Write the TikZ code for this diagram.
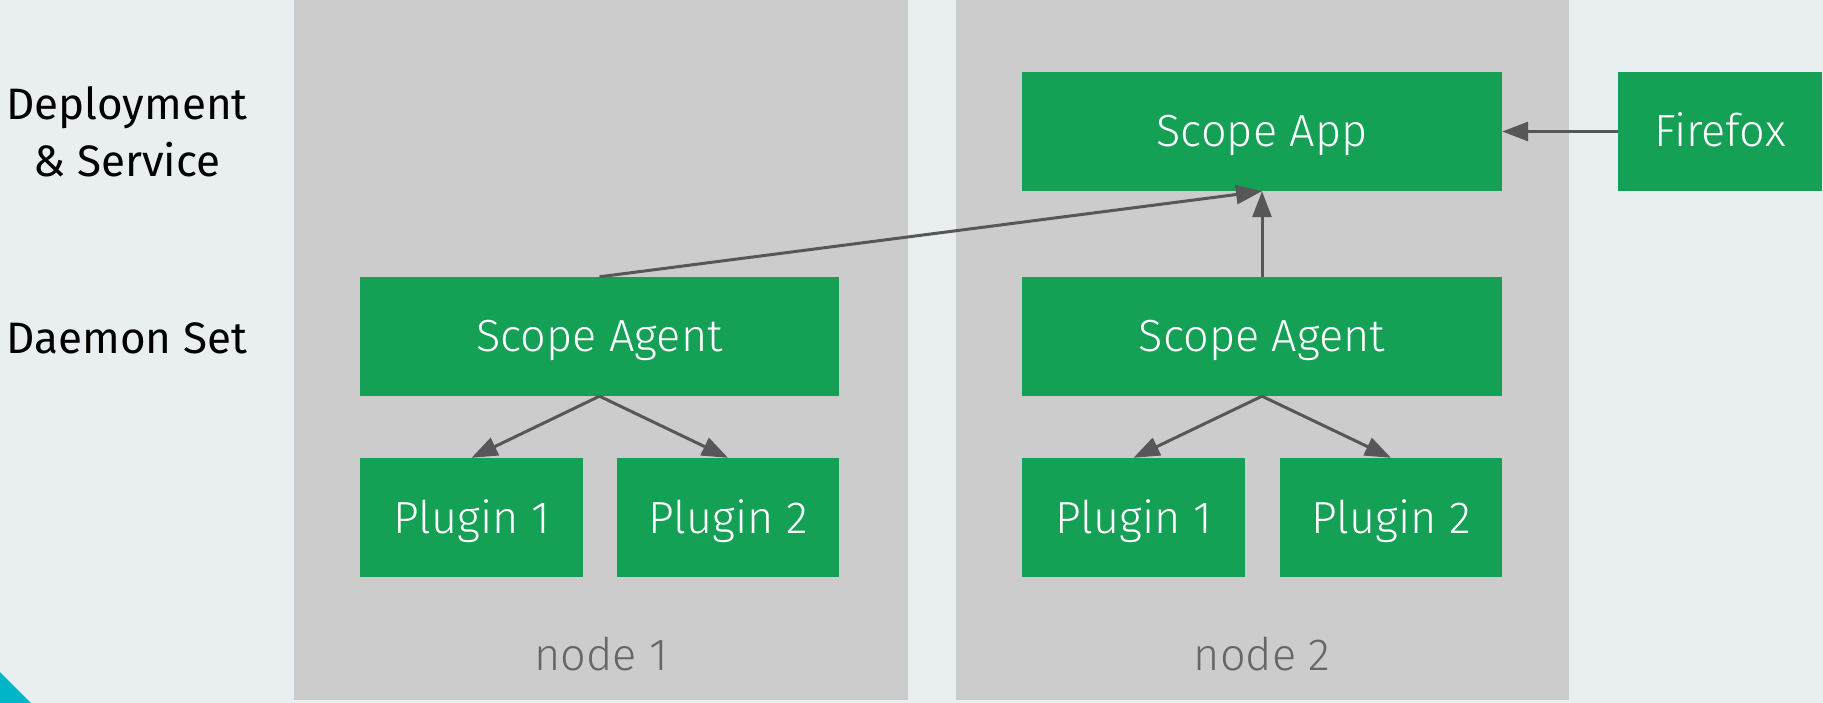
\documentclass[tikz,border=0pt]{standalone}
\usepackage{fontspec}
\setmainfont{Fira Sans Light}
\newfontfamily\sidefont{Fira Sans}
\usetikzlibrary{arrows.meta}
\definecolor{bgcol}{HTML}{E9EFF0}
\definecolor{panelcol}{HTML}{CCCCCC}
\definecolor{boxcol}{HTML}{14A055}
\definecolor{linecol}{HTML}{575757}
\definecolor{labelcol}{HTML}{666666}
\definecolor{cornercol}{HTML}{00B5C8}
\tikzset{
  box/.style={fill=boxcol,text=white,inner sep=0pt,minimum height=119pt,
    text height=31pt,text depth=0pt,font=\fontsize{45}{52}\selectfont},
  wide/.style={box,minimum width=480pt},
  plug/.style={box,minimum width=223pt},
  conn/.style={->,draw=linecol,line width=3pt},
  side/.style={align=center,font=\sidefont\fontsize{44}{57}\selectfont},
  hostlabel/.style={text=labelcol,text height=31pt,text depth=0pt,
    font=\fontsize{45}{52}\selectfont}
}
\begin{document}
\begin{tikzpicture}[line cap=butt,line join=miter,>={Triangle[length=26pt,width=19pt]},x=1pt,y=-1pt]
\fill [bgcol] (0,0) rectangle (1823,703);
\useasboundingbox (0,0) rectangle (1823,703);
\fill [cornercol] (0,672) -- (31,703) -- (0,703) -- cycle;
% the two hosts
\fill [panelcol] (294,0) rectangle (908,700);
\fill [panelcol] (956,0) rectangle (1569,700);
\node [hostlabel] (host1) at (601,655) {node 1};
\node [hostlabel] (host2) at (1262,655) {node 2};
% row labels
\node [side] (deploy) at (127,132) {Deployment\\ \& Service};
\node [side] (daemon) at (127,338) {Daemon Set};
% boxes
\node [wide] (app) at (1262,131.5) {Scope App};
\node [box,minimum width=204pt] (fox) at (1720,131.5) {Firefox};
\node [wide,minimum width=479pt] (agent1) at (599.5,336.5) {Scope Agent};
\node [wide] (agent2) at (1262,336.5) {Scope Agent};
\node [plug] (p11) at (471.5,517.5) {Plugin 1};
\node [plug,minimum width=222pt] (p12) at (728,517.5) {Plugin 2};
\node [plug] (p21) at (1133.5,517.5) {Plugin 1};
\node [plug,minimum width=222pt] (p22) at (1391,517.5) {Plugin 2};
% connectors
\draw [conn] (fox) -- (app);
\draw [conn] (agent2.north) -- (app.south);
\draw [conn] (agent1.north) -- (app.south);
\draw [conn] (agent1.south) -- (p11.north);
\draw [conn] (agent1.south) -- (p12.north);
\draw [conn] (agent2.south) -- (p21.north);
\draw [conn] (agent2.south) -- (p22.north);
\end{tikzpicture}
\end{document}
